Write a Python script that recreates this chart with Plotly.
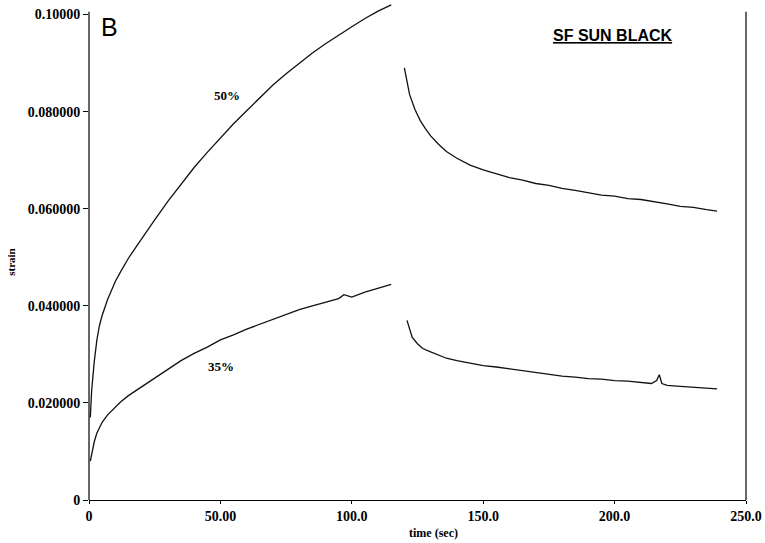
import plotly.graph_objects as go

# ---- data ----
t_load_50 = [0.5, 1, 2, 3, 4, 5, 7, 10, 12, 15, 18, 20, 25, 30, 35, 40, 45, 50, 55, 60, 65, 70, 75, 80, 85, 90, 95, 100, 105, 110, 115]
s_load_50 = [0.0170, 0.0225, 0.0285, 0.0330, 0.0360, 0.0380, 0.0412, 0.0450, 0.0470, 0.0498, 0.0522, 0.0537, 0.0577, 0.0615, 0.0650, 0.0685, 0.0716, 0.0746, 0.0775, 0.0802, 0.0829, 0.0855, 0.0878, 0.0900, 0.0921, 0.0940, 0.0958, 0.0975, 0.0992, 0.1007, 0.1020]

t_load_35 = [0.5, 1, 2, 3, 5, 7, 10, 12, 15, 18, 20, 25, 30, 35, 40, 45, 50, 55, 60, 65, 70, 75, 80, 85, 90, 95, 97, 99, 100, 105, 110, 115]
s_load_35 = [0.0080, 0.0095, 0.0120, 0.0138, 0.0160, 0.0175, 0.0192, 0.0202, 0.0215, 0.0226, 0.0232, 0.0252, 0.0270, 0.0287, 0.0302, 0.0315, 0.0330, 0.0340, 0.0352, 0.0362, 0.0372, 0.0382, 0.0392, 0.0400, 0.0408, 0.0415, 0.0423, 0.0420, 0.0418, 0.0428, 0.0436, 0.0444]

t_rec_50 = [120, 121, 122, 124, 126, 128, 130, 133, 136, 140, 145, 150, 155, 160, 165, 170, 175, 180, 185, 190, 195, 200, 205, 210, 215, 220, 225, 230, 235, 239]
s_rec_50 = [0.0890, 0.0860, 0.0835, 0.0805, 0.0782, 0.0765, 0.0750, 0.0733, 0.0718, 0.0704, 0.0690, 0.0680, 0.0672, 0.0664, 0.0659, 0.0652, 0.0648, 0.0642, 0.0638, 0.0633, 0.0628, 0.0626, 0.0621, 0.0619, 0.0615, 0.0610, 0.0605, 0.0603, 0.0598, 0.0595]

t_rec_35 = [121, 122, 123, 125, 127, 130, 133, 136, 140, 145, 150, 155, 160, 165, 170, 175, 180, 185, 190, 195, 200, 205, 210, 214, 216, 217, 218, 220, 225, 230, 235, 239]
s_rec_35 = [0.0370, 0.0350, 0.0335, 0.0322, 0.0312, 0.0305, 0.0298, 0.0292, 0.0287, 0.0282, 0.0277, 0.0274, 0.0270, 0.0266, 0.0262, 0.0259, 0.0255, 0.0253, 0.0250, 0.0249, 0.0246, 0.0245, 0.0243, 0.0240, 0.0246, 0.0258, 0.0240, 0.0236, 0.0234, 0.0232, 0.0230, 0.0229]

x_tickvals = [0, 50, 100, 150, 200, 250]
x_ticktext = ["0", "50.00", "100.0", "150.0", "200.0", "250.0"]
y_tickvals = [0, 0.02, 0.04, 0.06, 0.08, 0.10]
y_ticktext = ["0", "0.020000", "0.040000", "0.060000", "0.080000", "0.10000"]
y_axis_top = 0.1006   # where the drawn frame ends
y_view_top = 0.1030   # the curve pokes a bit above the frame

fig = go.Figure()
line_style = dict(color="#111111", width=1.3)
for tx, sy in [(t_load_50, s_load_50), (t_load_35, s_load_35), (t_rec_50, s_rec_50), (t_rec_35, s_rec_35)]:
    fig.add_trace(go.Scatter(x=tx, y=sy, mode="lines", line=line_style, showlegend=False, hoverinfo="skip"))

tick_font = dict(family="Liberation Serif", size=14, color="black", weight="bold")

fig.update_layout(
    width=765, height=543,
    margin=dict(l=89, r=19, t=0, b=43),
    paper_bgcolor="white", plot_bgcolor="white",
    showlegend=False,
    xaxis=dict(range=[0, 250], tickvals=x_tickvals, ticktext=x_ticktext, showgrid=False, zeroline=False,
               showline=True, linecolor="black", linewidth=1, ticks="outside", ticklen=3, tickcolor="black",
               tickfont=tick_font),
    yaxis=dict(range=[0, y_view_top], tickvals=y_tickvals, ticktext=y_ticktext, showgrid=False, zeroline=False,
               showline=False, ticks="outside", ticklen=5, tickcolor="black", tickfont=tick_font),
    shapes=[
        dict(type="line", xref="paper", yref="y", x0=0, x1=0, y0=0, y1=y_axis_top, line=dict(color="black", width=1.2)),
        dict(type="line", xref="paper", yref="y", x0=1, x1=1, y0=0, y1=y_axis_top, line=dict(color="black", width=1.2)),
    ],
    annotations=[
        dict(text="B", x=0.015, y=0.978, xref="paper", yref="paper", showarrow=False, xanchor="left", yanchor="top",
             font=dict(family="Liberation Sans", size=25, color="black")),
        dict(text="<b><u>SF SUN BLACK</u></b>", x=0.7976, y=0.928, xref="paper", yref="paper", showarrow=False,
             xanchor="center", yanchor="middle", font=dict(family="Liberation Sans", size=16, color="black")),
        dict(text="<b>50%</b>", x=52.5, y=0.0833, xref="x", yref="y", showarrow=False,
             font=dict(family="Liberation Serif", size=13, color="black")),
        dict(text="<b>35%</b>", x=50.2, y=0.0274, xref="x", yref="y", showarrow=False,
             font=dict(family="Liberation Serif", size=13, color="black")),
        dict(text="<b>strain</b>", x=-0.119, y=0.476, xref="paper", yref="paper", showarrow=False, textangle=-90,
             xanchor="center", yanchor="middle", font=dict(family="Liberation Serif", size=11, color="black")),
        dict(text="<b>time (sec)</b>", x=0.5236, y=-0.066, xref="paper", yref="paper", showarrow=False,
             xanchor="center", yanchor="middle", font=dict(family="Liberation Serif", size=12, color="black")),
    ],
)

fig.write_html("out.html")
